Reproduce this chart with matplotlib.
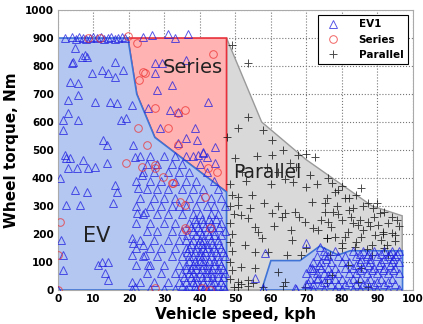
import numpy as np
import matplotlib.pyplot as plt
from matplotlib.patches import Polygon

# operating-mode boundaries (speed kph, torque Nm)
ev_region_x = [0, 0, 19.7, 22.2, 27.3, 47.5, 47.5]
ev_region_y = [0, 900, 900, 700, 545, 350, 0]
ev_high_x = [57.4, 60, 68.2, 73.8, 78.9, 82.3, 97.1, 97.1]
ev_high_y = [0, 105, 105, 157, 125, 140, 140, 0]
series_region_x = [19.7, 47.5, 47.5, 27.3, 22.2]
series_region_y = [900, 900, 350, 545, 700]
parallel_region_x = [47.5, 47.5, 57.4, 70, 88.5, 97, 97]
parallel_region_y = [0, 900, 600, 465, 300, 265, 0]

# EV1 operating points
ev_top_x = [2, 4, 5, 6, 7, 8, 9, 10, 11, 12, 13, 14, 15, 16, 17, 18, 19, 24, 26.5, 31, 33, 36.6]
ev_top_y = [900, 902, 898, 903, 900, 897, 901, 904, 899, 902, 898, 901, 903, 897, 900, 902, 899, 905, 912, 913, 900, 915]
ev_low_x = [4.8, 7.6, 6.7, 8.1, 4.3, 3.9, 9.5, 12.3, 14.1, 16, 18.3, 16, 3.4, 5.7, 2.9, 5.7,
            10.4, 14.6, 16.5, 20.8, 2.9, 1.5, 5.7, 17.9, 19.3, 1.5, 12.8, 13.7, 21.2, 2, 3.4,
            2.4, 7.1, 5.3, 2.9, 8.5, 10.4, 13.7, 21.7, 0.6, 4.8, 8.1, 16, 16.5, 2.4, 6.2, 15.6,
            1, 1.5, 12.3, 14.2, 11.4, 13.2, 14.2, 1.5, 20.8, 21.2, 20.8, 20.8, 21.7, 0,
            22.6, 22.2, 24.5, 24, 24.5, 25.4, 23.6,
            27.3, 29.2, 27.3, 36.2, 27.8, 32, 42.3, 25.4, 31.5, 33.8, 28.7, 38.6, 36.2, 39.1,
            33.8, 44.2, 40.8, 39.4, 40.8, 42, 44.3]
ev_low_y = [864, 839, 833, 833, 815, 810, 774, 786, 775, 762, 786, 815, 744, 738, 679, 696,
            672, 672, 667, 661, 631, 607, 607, 607, 613, 571, 536, 518, 518, 482, 471,
            470, 464, 435, 435, 435, 440, 452, 476, 399, 357, 351, 375, 351, 304, 304, 310,
            179, 125, 101, 101, 89, 60, 36, 71, 185, 167, 125, 30, 12, 0,
            363, 274, 280, 161, 125, 89, 411,
            810, 810, 775, 821, 714, 732, 672, 649, 643, 637, 577, 577, 542, 536,
            524, 512, 494, 482, 490, 475, 455]
ev_rows = {
    480: [23, 26, 30, 33, 36, 38],
    450: [25, 28, 32, 35, 40],
    420: [24, 27, 31, 34, 37, 42],
    390: [22, 26, 29, 33, 36, 39, 44],
    360: [25, 28, 31, 35, 38, 41, 45],
    330: [23, 27, 30, 33, 37, 40, 43, 46],
    300: [22, 26, 29, 32, 34, 36, 39, 42, 44, 47],
    270: [24, 28, 31, 35, 38, 40, 43, 45],
    240: [22, 26, 30, 33, 37, 39, 41, 43, 46],
    210: [25, 28, 32, 35, 38, 40, 42, 44, 47],
    180: [23, 27, 31, 34, 36, 38, 40, 41, 43, 45],
    150: [22, 26, 29, 33, 36, 37, 39, 41, 42, 44, 46],
    120: [24, 28, 32, 35, 37, 38, 40, 41, 43, 45, 47],
    90: [22, 26, 30, 34, 36, 38, 39, 41, 42, 44, 46],
    60: [25, 29, 33, 35, 37, 38, 40, 42, 43, 45, 47],
    30: [23, 27, 31, 34, 36, 38, 39, 41, 43, 44, 46],
    5: [21, 26, 30, 33, 36, 39, 41, 42, 44, 47],
}
ev_dense_rows = {
    255: [38.5, 40.5, 42.5, 44.5],
    225: [37.5, 39.5, 41.5, 43.5, 45.5],
    195: [36.5, 39, 40.5, 42.5, 44, 46],
    165: [37.5, 39.5, 40.5, 42, 43.5, 45.5],
    135: [36.5, 38.5, 40, 41.5, 43, 44.5, 46.5],
    105: [37, 38.5, 40, 41, 42.5, 44, 45.5],
    75: [36, 37.5, 39, 40.5, 42, 43.5, 45, 46.5],
    45: [35.5, 37.5, 39, 40.5, 42, 43.5, 45, 46.5],
    15: [35, 37, 38.5, 40, 41.5, 43, 45, 46.5],
}
ev_high_rows = {
    140: [75, 78, 83, 86, 89, 92, 94, 96],
    120: [73, 76, 79, 81, 84, 87, 90, 93, 95],
    100: [72, 74, 77, 80, 82, 85, 88, 91, 94, 96],
    80: [71, 74, 76, 78, 81, 83, 86, 89, 92, 95],
    60: [70, 73, 75, 77, 79, 82, 84, 87, 90, 93, 96],
    40: [71, 73, 76, 78, 80, 83, 85, 88, 91, 94],
    20: [70, 72, 74, 77, 79, 81, 84, 86, 89, 92, 95],
    5: [67, 72, 75, 78, 80, 83, 85, 88, 90, 93, 96],
    130: [85, 87.5, 91, 93.5, 95.5],
    110: [75.5, 85.5, 88, 92, 94.5],
    90: [73.5, 84, 87.5, 90.5, 93.5],
    70: [72, 85, 88.5, 91.5, 94.5],
    30: [75, 82, 87, 90, 93],
}
ev_extra_x = [58.3, 55.5, 57.8, 66.8, 70, 73.8, 71.5, 73.3, 70.5, 75.2, 76]
ev_extra_y = [131, 42, 6, 6, 167, 155, 77, 42, 24, 125, 54]

# Series operating points
series_x = [8.5, 11.8, 19.7, 22.2, 24, 22.9, 22.6, 43.7, 24.5, 27.3, 35.8, 33.9, 31.1, 33.9, 25,
            19.2, 23.6, 27.3, 29.7, 32, 34.4, 36.2, 42.8, 0.6, 0.1, 27.3, 40.5, 42.8, 0,
            27.3, 32.5, 35.8, 41.4, 35.8, 44.7, 42.3]
series_y = [901, 901, 907, 881, 780, 750, 577, 843, 774, 650, 643, 631, 577, 518, 518,
            452, 440, 446, 405, 381, 315, 214, 220, 244, 125, 6, 6, 0, 0,
            435, 381, 304, 333, 220, 423, 435]

# Parallel operating points
parallel_x = [49, 53.6, 53.6, 50.8, 57.8, 60.2, 63.5, 60.2, 67.7, 70, 65.4, 47.5,
              72.4, 66.3, 70, 50.8, 54.6, 51.7, 53.6, 55.5, 56.4, 52.7, 55.5, 59.2, 64.4, 65.8,
              63, 63.9, 60.2, 66.8, 71.5, 75.7, 75.2, 69.6, 73.3, 75.7, 51.7, 55.5, 62.1, 63.9,
              50.8, 53.6, 68.6, 57.4, 54.1, 50.8,
              85.5, 79, 77.1, 80.8, 75.2, 83.2, 87.4, 88.8, 90.7, 77.6, 76.1, 79.9, 82.7, 84.6,
              87.4, 90.2, 93, 95.4, 91.6, 94.9, 89.3, 85.5, 81.8, 78, 75.7, 88.4, 83.7, 79.9,
              92.6, 76.6, 88.4, 93, 81.8, 85.5, 77.1, 75.7, 84.6, 87.4,
              48.5, 49, 48.5, 49.5, 48.5, 49, 48.5, 49, 48.5, 49, 48.5, 49.5,
              50.7, 51.6, 53.5, 54.9, 57.8, 63.4, 69.6,
              62, 64, 67, 71, 73, 76, 78, 80, 82, 84, 86, 90, 92, 94, 96, 60, 58, 61, 66, 70,
              72, 74, 68, 62, 59, 56, 52, 50, 53,
              77, 79, 81, 83, 86, 89, 91, 94, 78.5, 82, 85, 88, 91.5, 95, 80, 84, 87, 92]
parallel_y = [875, 810, 619, 577, 571, 536, 500, 482, 482, 486, 452, 548,
              476, 387, 369, 333, 339, 268, 256, 226, 208, 161, 137, 137, 125, 214,
              262, 274, 274, 280, 315, 327, 280, 244, 214, 185, 83, 77, 65, 30,
              30, 36, 125, 185, 292, 304,
              363, 357, 381, 327, 310, 292, 310, 292, 274, 280, 244, 250, 262, 232,
              244, 232, 238, 250, 208, 196, 196, 190, 208, 190, 185, 161, 155, 167,
              161, 125, 125, 125, 89, 77, 54, 24, 30, 12,
              380, 340, 300, 270, 240, 200, 170, 140, 100, 70, 40, 10,
              12, 20, 15, 25, 10, 15, 10,
              420, 395, 440, 410, 380, 400, 350, 370, 330, 340, 300, 310, 280, 260, 230, 380,
              310, 230, 180, 150, 220, 250, 260, 300, 440, 480, 420, 470, 390,
              225, 270, 190, 240, 215, 260, 180, 205, 300, 285, 250, 230, 200, 175, 150, 170, 145, 150]

ev_x = list(ev_top_x) + list(ev_low_x) + list(ev_extra_x)
ev_y = list(ev_top_y) + list(ev_low_y) + list(ev_extra_y)
for rows in (ev_rows, ev_dense_rows, ev_high_rows):
    for torque, speeds in rows.items():
        ev_x += speeds
        ev_y += [torque] * len(speeds)

fig = plt.figure(figsize=(4.23, 3.24), dpi=100)
ax = fig.add_axes([0.137, 0.105, 0.839, 0.864])

ax.add_patch(Polygon(np.column_stack([parallel_region_x, parallel_region_y]), closed=True,
                     facecolor='#d9d9d9', edgecolor='#9a9a9a', lw=1, zorder=1))
ax.add_patch(Polygon(np.column_stack([series_region_x, series_region_y]), closed=True,
                     facecolor='#ffb3b3', edgecolor='#e8303a', lw=1.2, zorder=1))
for px, py in ((ev_region_x, ev_region_y), (ev_high_x, ev_high_y)):
    ax.add_patch(Polygon(np.column_stack([px, py]), closed=True,
                         facecolor='#b4c7f1', edgecolor='#3f74d6', lw=1.2, zorder=1))

ax.plot(parallel_x, parallel_y, '+', color='black', ms=6, mew=0.7, alpha=0.7, ls='none',
        zorder=3, label='Parallel')
ax.plot(ev_x, ev_y, '^', mfc='none', mec='#2020e0', ms=5.5, mew=0.7, alpha=0.75, ls='none',
        zorder=4, label='EV1')
ax.plot(series_x, series_y, 'o', mfc='none', mec='#ee3030', ms=5.5, mew=0.7, alpha=0.75,
        ls='none', zorder=5, label='Series')

ax.text(38, 796, 'Series', fontsize=14, ha='center', va='center', color='#222', zorder=6)
ax.text(59, 421, 'Parallel', fontsize=13.5, ha='center', va='center', color='#222', zorder=6)
ax.text(11, 193, 'EV', fontsize=15, ha='center', va='center', color='#222', zorder=6)

ax.set_xlim(0, 100)
ax.set_ylim(0, 1000)
ax.set_xticks(np.arange(0, 101, 10))
ax.set_yticks(np.arange(0, 1001, 100))
ax.grid(True, ls=':', color='#777', lw=0.8)
ax.set_axisbelow(True)
ax.tick_params(length=0, labelsize=7.5, pad=3)
for lab in ax.get_xticklabels() + ax.get_yticklabels():
    lab.set_fontweight('bold')
for sp in ax.spines.values():
    sp.set_color('#aaaaaa')
ax.set_xlabel('Vehicle speed, kph', fontsize=11, fontweight='bold', labelpad=2)
ax.set_ylabel('Wheel torque, Nm', fontsize=11, fontweight='bold', labelpad=4)

h, l = ax.get_legend_handles_labels()
order = [l.index('EV1'), l.index('Series'), l.index('Parallel')]
leg = ax.legend([h[i] for i in order], [l[i] for i in order], loc='upper right',
                prop={'size': 7.5, 'weight': 'bold'}, fancybox=False, framealpha=1,
                edgecolor='black', borderaxespad=0.5, handletextpad=1.5)
leg.get_frame().set_linewidth(0.8)
leg.set_zorder(10)

fig.savefig('out.png', dpi=100)
